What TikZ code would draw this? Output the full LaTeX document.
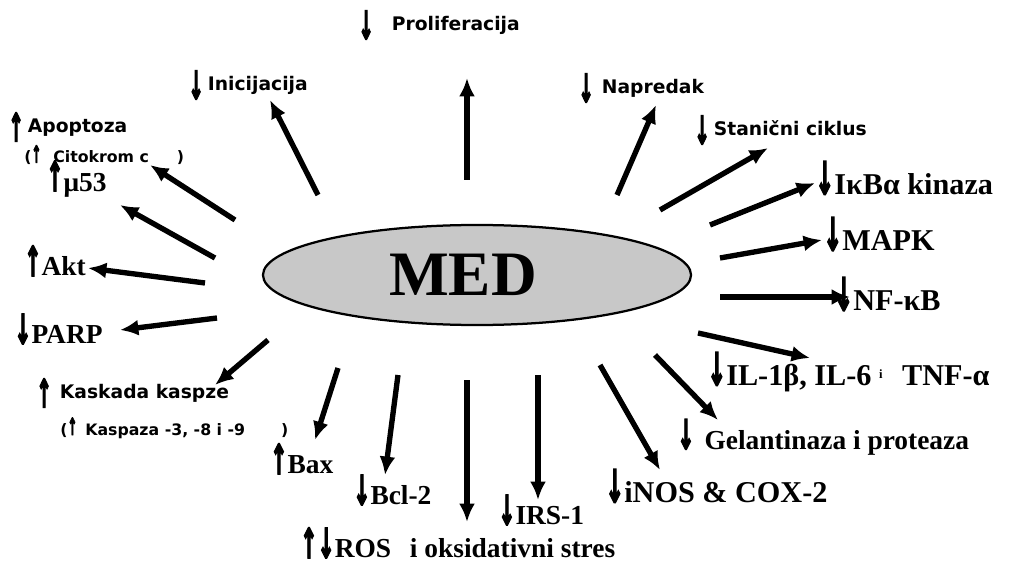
\documentclass[tikz,border=0pt]{standalone}
\usepackage{fontspec}
\usepackage{tikz}
\usetikzlibrary{arrows.meta,positioning,shapes.geometric}
\setmainfont{Liberation Serif}
\newfontfamily\labelsans{DejaVu Sans}
\newfontfamily\arrowfont[FakeBold=4]{DejaVu Sans Bold}
\definecolor{medgray}{HTML}{C8C8C8}
% arrow marks in the serif labels
\newcommand{\dn}{{\arrowfont\scalebox{0.75}[1.5]{↓}}}
\newcommand{\up}{{\arrowfont\scalebox{0.75}[1.5]{↑}}}
% arrow marks in the sans labels
\newcommand{\dnsans}{\raisebox{-0.45em}{\arrowfont\scalebox{1}[2.1]{↓}}}
\newcommand{\upsans}{\raisebox{-0.45em}{\arrowfont\scalebox{1}[2.1]{↑}}}
\newcommand{\ray}[3]{
  \coordinate (#1-s) at #2;
  \coordinate (#1-e) at #3;
  \draw[ray] (#1-s) -- (#1-e);
}
\tikzset{
  ray/.style={-{Latex[length=4.6mm,width=4mm]},line width=3.8pt},
  sanslabel/.style={anchor=west,inner sep=0pt,font=\labelsans\bfseries\fontsize{13.3}{15}\selectfont},
  smalllabel/.style={anchor=west,inner sep=0pt,font=\labelsans\bfseries\fontsize{11.2}{13}\selectfont},
  seriflabel/.style={anchor=west,inner sep=0pt,font=\bfseries\fontsize{19.5}{22}\selectfont},
  bigserif/.style={seriflabel,font=\bfseries\fontsize{21.5}{24}\selectfont},
}

\begin{document}
\begin{tikzpicture}[x=0.025cm,y=-0.025cm]
  \useasboundingbox (0,0) rectangle (1011,570);
  \node[ellipse,draw,line width=1.6pt,fill=medgray,minimum width=10.7cm,minimum height=2.5cm] (med) at (477,275)
    {\fontsize{45}{47}\selectfont\bfseries MED\kern7mm};

  % upper half
  \ray{prolif}{(467,180)}{(467,78)}
  \ray{inic}{(318,195)}{(270,100)}
  \ray{apopt}{(235,220)}{(150,165)}
  \ray{ptf}{(215,258)}{(120,205)}
  \ray{akt}{(205,283)}{(88,268)}
  \ray{napr}{(617,195)}{(656,105)}
  \ray{stan}{(660,210)}{(768,148)}
  \ray{ikb}{(710,225)}{(815,183)}
  \ray{mapk}{(720,258)}{(822,240)}
  \ray{nfkb}{(720,297)}{(850,297)}

  % lower half
  \ray{parp}{(217,318)}{(120,330)}
  \ray{kask}{(268,340)}{(215,385)}
  \ray{bax}{(338,368)}{(315,440)}
  \ray{bcl}{(398,375)}{(385,475)}
  \ray{ros}{(467,380)}{(467,522)}
  \ray{irs}{(538,375)}{(538,500)}
  \ray{inos}{(600,365)}{(660,470)}
  \ray{gel}{(655,355)}{(718,420)}
  \ray{il}{(698,333)}{(810,358)}

  % labels
  \node[sanslabel] (prolif-l) at (358,25) {\dnsans\hspace{4.5mm}Proliferacija};
  \node[sanslabel] (inic-l) at (188,85) {\dnsans\hspace{1mm}Inicijacija};
  \node[sanslabel] (apopt-l) at (8,127) {\upsans\hspace{1mm}Apoptoza};
  \node[smalllabel] (citok-l) at (24,155) {(\up\hspace{3mm}Citokrom c\hspace{7mm})};
  \node[seriflabel] (ptf-l) at (46,179) {\up μ53};
  \node[seriflabel] (akt-l) at (24,261) {\up Akt};
  \node[seriflabel] (parp-l) at (14,329) {\dn PARP};
  \node[sanslabel] (kask-l) at (36,393) {\upsans\hspace{2mm}Kaskada kaspze};
  \node[smalllabel] (kaspaza-l) at (60,428) {(\up\hspace{2mm}Kaspaza -3, -8 i -9\hspace{9mm})};
  \node[seriflabel] (bax-l) at (270,459) {\up Bax};
  \node[seriflabel] (bcl-l) at (353,490) {\dn Bcl-2};
  \node[seriflabel] (ros-l) at (300,543) {\up\dn ROS\hspace{3mm} i oksidativni stres};
  \node[seriflabel] (irs-l) at (498,510) {\dn IRS-1};
  \node[bigserif] (inos-l) at (605,486) {\dn iNOS \& COX-2};
  \node[seriflabel] (gel-l) at (677,437) {\dn\hspace{2.5mm}Gelantinaza i proteaza};
  \node[bigserif] (il-l) at (707,372) {\dn IL-1β, IL-6 \raisebox{0.5ex}{\small i}\hspace{3mm} TNF-α};
  \node[bigserif] (nfkb-l) at (834,294) {\dn NF-κB};
  \node[bigserif] (mapk-l) at (823,234) {\dn MAPK};
  \node[bigserif] (ikb-l) at (815,178) {\dn IκBα kinaza};
  \node[sanslabel] (stan-l) at (694,130) {\dnsans\hspace{1mm}Stanični ciklus};
  \node[sanslabel] (napr-l) at (578,88) {\dnsans\hspace{2mm}Napredak};
\end{tikzpicture}
\end{document}
